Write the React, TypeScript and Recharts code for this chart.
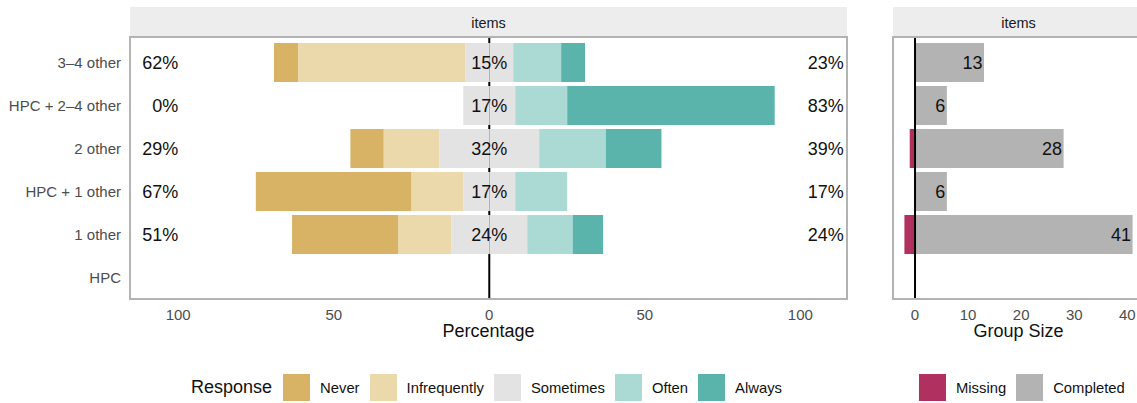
import React from 'react';
import { BarChart, Bar, XAxis, YAxis, ReferenceLine, LabelList } from 'recharts';

// ---------- data ----------
const categories = ['3–4 other', 'HPC + 2–4 other', '2 other', 'HPC + 1 other', '1 other', 'HPC'];
const never: (number | null)[] = [7.7, 0, 10.7, 50.0, 34.1, null];
const infrequently: (number | null)[] = [53.8, 0, 17.9, 16.7, 17.1, null];
const sometimes: (number | null)[] = [15.4, 16.7, 32.1, 16.7, 24.4, null];
const often: (number | null)[] = [15.4, 16.7, 21.4, 16.7, 14.6, null];
const always: (number | null)[] = [7.7, 66.7, 17.9, 0, 9.8, null];
const lowLabels = ['62%', '0%', '29%', '67%', '51%', null];
const midLabels = ['15%', '17%', '32%', '17%', '24%', null];
const highLabels = ['23%', '83%', '39%', '17%', '24%', null];
const missing: (number | null)[] = [0, 0, 1, 0, 2, null];
const completed: (number | null)[] = [13, 6, 28, 6, 41, null];
const pctTicks = [-100, -50, 0, 50, 100];
const sizeTicks = [0, 10, 20, 30, 40];

const COLORS = {
  never: '#D8B365',
  infrequently: '#EBD9AB',
  sometimes: '#E3E3E3',
  often: '#ABDAD5',
  always: '#5AB4AC',
  missing: '#B03060',
  completed: '#B3B3B3',
};

const neg = (v: number | null) => (v == null ? null : -v);
const half = (v: number | null) => (v == null ? null : v / 2);

const likertData = categories.map((cat, i) => ({
  cat,
  someNeg: neg(half(sometimes[i])),
  infreq: neg(infrequently[i]),
  never: neg(never[i]),
  somePos: half(sometimes[i]),
  often: often[i],
  always: always[i],
  low: lowLabels[i],
  mid: midLabels[i],
  high: highLabels[i],
  half: half(sometimes[i]),
}));

const sizeData = categories.map((cat, i) => ({
  cat,
  missing: neg(missing[i]),
  completed: completed[i],
}));

const FONT = '"Liberation Sans", Arial, Helvetica, sans-serif';
const TICK = { fill: '#4D4D4D', fontSize: 15 };

// geometry
const TOP = 37;
const PLOT_H = 262;
const XAXIS_H = 46;
const CHART_H = TOP + PLOT_H + XAXIS_H;

const L_YW = 130;
const L_W = 850;
const L_RM = 3;
const R_LEFT = 850;
const R_LM = 43;
const R_W = 294;
const PCT_DOMAIN: [number, number] = [-115.5, 115];
const SIZE_DOMAIN: [number, number] = [-4.15, 43.15];

const getBox = (p: any) => {
  const vb = p.viewBox || {};
  return {
    x: p.x ?? vb.x,
    y: p.y ?? vb.y,
    width: p.width ?? vb.width,
    height: p.height ?? vb.height,
  };
};

const LikertLabels = (props: any) => {
  const { index } = props;
  const d = likertData[index];
  if (!d || d.half == null) return null;
  const { x, y, width, height } = getBox(props);
  const k = width / d.half; // px per percent, taken from the bar scale
  const yc = y + height / 2;
  const style = { fontSize: 18, fill: '#111', fontFamily: FONT };
  return (
    <g>
      <text x={x} y={yc} dy="0.355em" textAnchor="middle" style={style}>{d.mid}</text>
      <text x={x - 100 * k} y={yc} dy="0.355em" textAnchor="end" style={style}>{d.low}</text>
      <text x={x + 114 * k} y={yc} dy="0.355em" textAnchor="end" style={style}>{d.high}</text>
    </g>
  );
};

const SizeLabel = (props: any) => {
  const { index } = props;
  const v = completed[index];
  if (v == null) return null;
  const { x, y, width, height } = getBox(props);
  return (
    <text x={x + width - 1.5} y={y + height / 2} dy="0.355em" textAnchor="end"
      style={{ fontSize: 18, fill: '#111', fontFamily: FONT }}>{v}</text>
  );
};

const Strip = ({ left, width }: { left: number; width: number }) => (
  <div style={{
    position: 'absolute', left, top: 7, width, height: 30, background: '#EDEDED',
    fontSize: 14.5, color: '#1A1A1A', textAlign: 'center', lineHeight: '30px', paddingTop: 1, boxSizing: 'border-box',
  }}>items</div>
);

const Border = ({ left, width }: { left: number; width: number }) => (
  <div style={{
    position: 'absolute', left, top: TOP - 1, width, height: PLOT_H + 2,
    border: '2px solid #B3B3B3', boxSizing: 'border-box', pointerEvents: 'none',
  }} />
);

const LegendItem = ({ color, label }: { color: string; label: string }) => (
  <div style={{ display: 'flex', alignItems: 'center', marginRight: 10 }}>
    <div style={{ width: 27, height: 27, background: color, marginRight: 10 }} />
    <span style={{ fontSize: 14.8, color: '#111' }}>{label}</span>
  </div>
);

const layer: React.CSSProperties = { position: 'absolute', left: 0, top: 0 };

export default function App() {
  return (
    <div style={{
      position: 'absolute', left: 0, top: 0, width: 1137, height: 403, overflow: 'hidden',
      background: '#fff', fontFamily: FONT,
    }}>
      <Strip left={L_YW} width={L_W - L_YW - L_RM} />
      <Strip left={R_LEFT + R_LM} width={R_W - R_LM} />

      {/* zero line drawn behind the likert bars (same plot area, hidden axes) */}
      <div style={layer}>
        <BarChart width={L_W} height={CHART_H} data={likertData} layout="vertical"
          margin={{ top: TOP, right: L_RM, bottom: XAXIS_H, left: L_YW }}>
          <XAxis type="number" domain={PCT_DOMAIN} allowDataOverflow hide />
          <YAxis type="category" dataKey="cat" hide />
          <ReferenceLine x={0} stroke="#000" strokeWidth={2} />
        </BarChart>
      </div>

      <div style={layer}>
        <BarChart width={L_W} height={CHART_H} data={likertData} layout="vertical" stackOffset="sign"
          margin={{ top: TOP, right: L_RM, bottom: 0, left: 0 }} barSize={39}>
          <XAxis type="number" domain={PCT_DOMAIN} ticks={pctTicks} allowDataOverflow
            tickFormatter={(v: number) => String(Math.abs(v))} tick={TICK} tickLine={false} axisLine={false}
            tickSize={0} tickMargin={10} height={XAXIS_H}
            label={{ value: 'Percentage', position: 'insideBottom', offset: 8.5, style: { fontSize: 18, fill: '#111' } }} />
          <YAxis type="category" dataKey="cat" width={L_YW} tick={TICK} tickLine={false} axisLine={false}
            tickSize={0} tickMargin={9} padding={{ top: 4, bottom: 0 }} />
          <Bar dataKey="someNeg" stackId="a" fill={COLORS.sometimes} isAnimationActive={false} />
          <Bar dataKey="infreq" stackId="a" fill={COLORS.infrequently} isAnimationActive={false} />
          <Bar dataKey="never" stackId="a" fill={COLORS.never} isAnimationActive={false} />
          <Bar dataKey="somePos" stackId="a" fill={COLORS.sometimes} isAnimationActive={false}>
            <LabelList dataKey="mid" content={LikertLabels} />
          </Bar>
          <Bar dataKey="often" stackId="a" fill={COLORS.often} isAnimationActive={false} />
          <Bar dataKey="always" stackId="a" fill={COLORS.always} isAnimationActive={false} />
        </BarChart>
      </div>

      <div style={{ position: 'absolute', left: R_LEFT, top: 0 }}>
        <BarChart width={R_W} height={CHART_H} data={sizeData} layout="vertical" stackOffset="sign"
          margin={{ top: TOP, right: 0, bottom: 0, left: R_LM }} barSize={39}>
          <XAxis type="number" domain={SIZE_DOMAIN} ticks={sizeTicks} allowDataOverflow
            tick={TICK} tickLine={false} axisLine={false} tickSize={0} tickMargin={10} height={XAXIS_H}
            label={{ value: 'Group Size', position: 'insideBottom', offset: 8.5, style: { fontSize: 18, fill: '#111' } }} />
          <YAxis type="category" dataKey="cat" hide padding={{ top: 4, bottom: 0 }} />
          <Bar dataKey="missing" stackId="s" fill={COLORS.missing} isAnimationActive={false} />
          <Bar dataKey="completed" stackId="s" fill={COLORS.completed} isAnimationActive={false}>
            <LabelList dataKey="completed" content={SizeLabel} />
          </Bar>
          <ReferenceLine x={0} stroke="#000" strokeWidth={2} />
        </BarChart>
      </div>

      <Border left={L_YW - 1} width={L_W - L_YW - L_RM + 2} />
      <Border left={R_LEFT + R_LM - 1} width={R_W - R_LM + 2} />

      <div style={{ position: 'absolute', left: 191, top: 374, height: 27, display: 'flex', alignItems: 'center' }}>
        <span style={{ fontSize: 18, color: '#111', marginRight: 11 }}>Response</span>
        <LegendItem color={COLORS.never} label="Never" />
        <LegendItem color={COLORS.infrequently} label="Infrequently" />
        <LegendItem color={COLORS.sometimes} label="Sometimes" />
        <LegendItem color={COLORS.often} label="Often" />
        <LegendItem color={COLORS.always} label="Always" />
      </div>
      <div style={{ position: 'absolute', left: 919, top: 374, height: 27, display: 'flex', alignItems: 'center' }}>
        <LegendItem color={COLORS.missing} label="Missing" />
        <LegendItem color={COLORS.completed} label="Completed" />
      </div>
    </div>
  );
}
